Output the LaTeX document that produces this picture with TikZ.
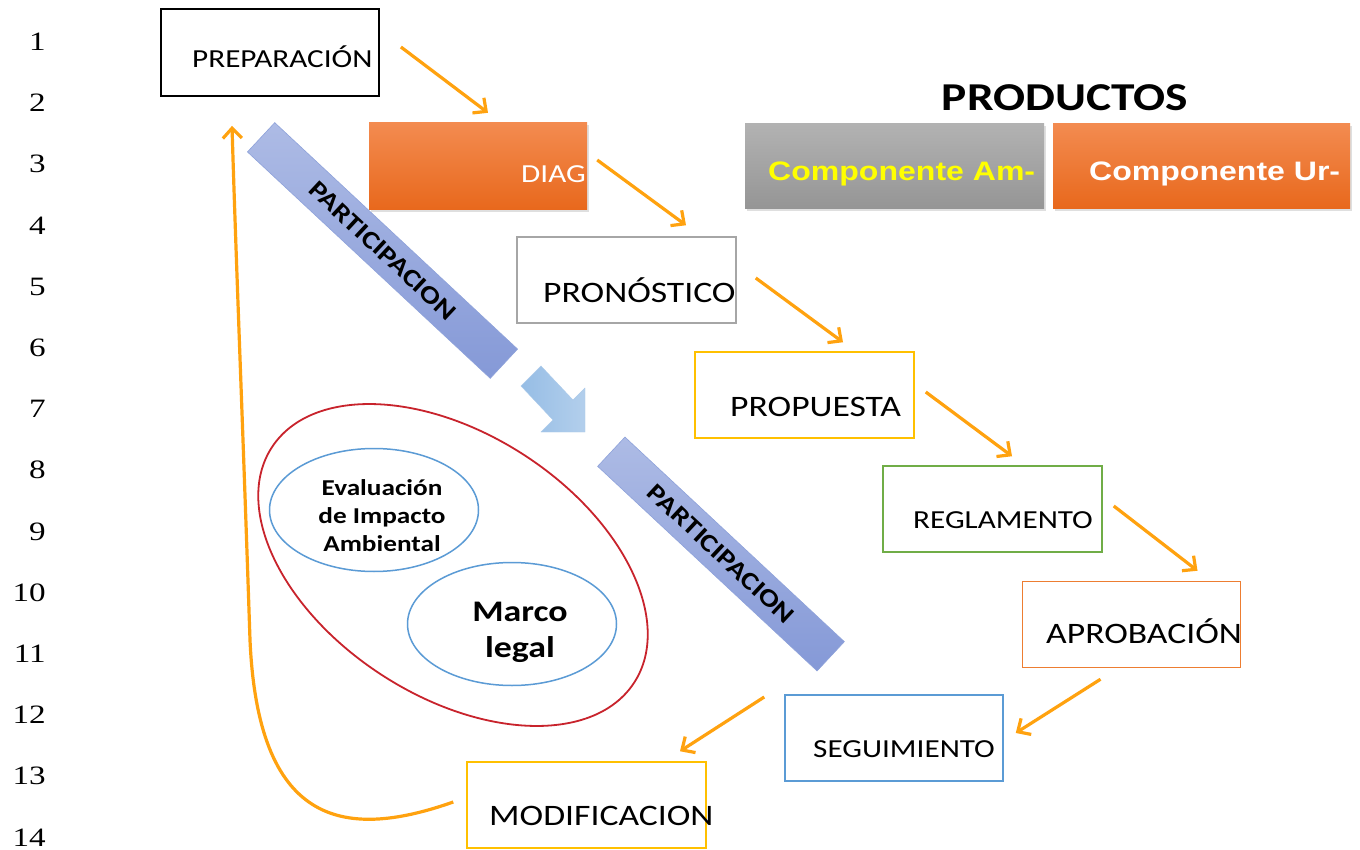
\documentclass[tikz,border=0pt]{standalone}
\usepackage{fontspec}
\setmainfont{Carlito}[FakeStretch=1.2]
\newfontfamily\numfont{Liberation Serif}[FakeStretch=1.25]
\newfontfamily\arialf{Liberation Sans}[FakeStretch=1.2]
\usetikzlibrary{arrows.meta,calc,shadows,shapes.geometric}
\definecolor{arrcol}{HTML}{FFA20F}
\definecolor{orlight}{HTML}{F38B50}
\definecolor{ordark}{HTML}{E8681C}
\definecolor{grlight}{HTML}{B2B2B2}
\definecolor{grdark}{HTML}{959595}
\definecolor{barlight}{HTML}{ADBBE5}
\definecolor{bardark}{HTML}{8599D7}
\definecolor{barline}{HTML}{8EA2DA}
\definecolor{ablight}{HTML}{B3CFEC}
\definecolor{abdark}{HTML}{96BDE5}
\definecolor{goldc}{HTML}{FFC000}
\definecolor{greenc}{HTML}{70AD47}
\definecolor{orangec}{HTML}{ED7D31}
\definecolor{bluec}{HTML}{5B9BD5}
\definecolor{grayc}{HTML}{A6A6A6}
\definecolor{redc}{HTML}{C8232C}
\definecolor{yelc}{HTML}{FFFF00}
\begin{document}
\begin{tikzpicture}[x=1pt,y=-1pt,
  box/.style={draw, line width=1.5pt, minimum width=218pt, minimum height=86pt, inner sep=0pt},
  lbl/.style={anchor=base west, inner sep=0pt, font=\fontsize{26}{30}\selectfont},
  lblb/.style={anchor=base west, inner sep=0pt, font=\fontsize{29.7}{34}\selectfont},
  arr/.style={draw=arrcol, line width=3.2pt, -{Straight Barb[length=10pt,width=19pt]}},
  num/.style={anchor=base east, inner sep=0pt, font=\numfont\fontsize{26.5}{30}\selectfont},
  bar/.style={rotate=-43, minimum height=40pt, inner sep=0pt, draw=barline, line width=0.6pt,
    top color=barlight, bottom color=bardark, font=\bfseries\fontsize{25}{30}\selectfont, text=black},
  gbox/.style={minimum height=85pt, inner sep=0pt, drop shadow={shadow xshift=1.5pt, shadow yshift=-2.5pt, opacity=0.25}},
  comptxt/.style={anchor=base west, inner sep=0pt, font=\arialf\bfseries\fontsize{26.7}{30}\selectfont},
  oval/.style={ellipse, draw=bluec, line width=1.5pt, minimum width=209pt, minimum height=123pt, inner sep=0pt}
]
\useasboundingbox (0,0) rectangle (1360,850);
\fill[white] (0,0) rectangle (1360,850);

% line numbers
\foreach \i [evaluate=\i as \yy using 43+61.2*(\i-1)+7.5] in {1,...,14}
  \node[num] (n\i) at (46,\yy) {\i};

% process boxes
\node[box, draw=black, line width=1.8pt, minimum height=87pt] (prep) at (270,52.5) {};
\node[lbl] (tprep) at (192,68) {PREPARACIÓN};

\node[gbox, minimum width=218pt, minimum height=87pt, top color=orlight, bottom color=ordark] (diag) at (478,166.5) {};
\node[lbl, text=white] (tdiag) at (521,183) {DIAG};

\node[box, draw=grayc, minimum width=219pt] (pron) at (626.5,280) {};
\node[lblb] (tpron) at (543,302) {PRONÓSTICO};

\node[box, draw=goldc, minimum width=219pt] (prop) at (804.5,395) {};
\node[lblb] (tprop) at (730,416) {PROPUESTA};

\node[box, draw=greenc, minimum width=219pt] (regl) at (992.5,509) {};
\node[lbl] (tregl) at (913,528) {REGLAMENTO};

\node[box, draw=orangec] (apro) at (1131.5,624.5) {};
\node[lblb] (tapro) at (1046,643) {APROBACIÓN};

\node[box, draw=bluec] (segu) at (894,738) {};
\node[lbl] (tsegu) at (813,757) {SEGUIMIENTO};

\node[box, draw=goldc, minimum width=239pt] (modi) at (586.5,805) {};
\node[lblb] (tmodi) at (489,825) {MODIFICACION};

% productos
\node[inner sep=0pt, font=\bfseries\fontsize{39.5}{44}\selectfont] (prod) at (1065,98) {PRODUCTOS};
\node[gbox, minimum width=299pt, top color=grlight, bottom color=grdark] (cam) at (894.5,166.5) {};
\node[comptxt, text=yelc] (tcam) at (768,180.5) {Componente Am-};
\node[gbox, minimum width=297pt, top color=orlight, bottom color=ordark] (cur) at (1201.5,166.5) {};
\node[comptxt, text=white] (tcur) at (1089,180.5) {Componente Ur-};

% participacion bars
\node[bar, minimum width=332pt] (bar1) at (382.5,250.5) {PARTICIPACION};
\node[bar, minimum width=300pt] (bar2) at (721,554) {PARTICIPACION};

% block arrow
\path[left color=abdark, right color=ablight, draw=abdark!80!white, line width=0.4pt]
  (521,386) -- (541,366) -- (573,400) -- (585,388) -- (585,432) -- (541,432) -- (553,420) -- cycle;

% ellipses
\node[ellipse, draw=redc, line width=1.8pt, minimum width=432pt, minimum height=262pt, rotate=-33, inner sep=0pt] (big) at (453,565) {};
\node[oval] (eia) at (374,510) {};
\node[align=center, inner sep=0pt, font=\bfseries\fontsize{22.7}{28}\selectfont] (teia) at (382,516) {Evaluación\\de Impacto\\Ambiental};
\node[oval] (ml) at (512,624) {};
\node[align=center, inner sep=0pt, font=\bfseries\fontsize{29.9}{36}\selectfont] (tml) at (520,632) {Marco\\legal};

% connectors
\draw[arr] ($(prep.east)+(21,-5.5)$) -- ($(diag.north)+(10,-10)$);
\draw[arr] ($(diag.east)+(10,-6.5)$) -- ($(pron.north)+(59.5,-11)$);
\draw[arr] ($(pron.east)+(19,-2)$) -- ($(prop.north)+(38.5,-9)$);
\draw[arr] ($(prop.east)+(11,-3)$) -- ($(regl.north)+(19.5,-9)$);
\draw[arr] ($(regl.east)+(11,-3)$) -- ($(apro.north)+(66,-10)$);
\draw[arr] ($(apro.south)+(-31,11)$) -- ($(segu.east)+(12,-5)$);
\draw[arr] ($(segu.west)+(-20,-41)$) -- ($(modi.north)+(93.5,-10)$);
\coordinate (cs) at ($(modi.west)+(-13,-3)$);
\coordinate (ce) at ($(prep.south)+(-38,29)$);
\draw[arr] (cs) .. controls (340,842) and (258,822) .. (250,640) .. controls (243,430) and (236,260) .. (ce);
\end{tikzpicture}
\end{document}
